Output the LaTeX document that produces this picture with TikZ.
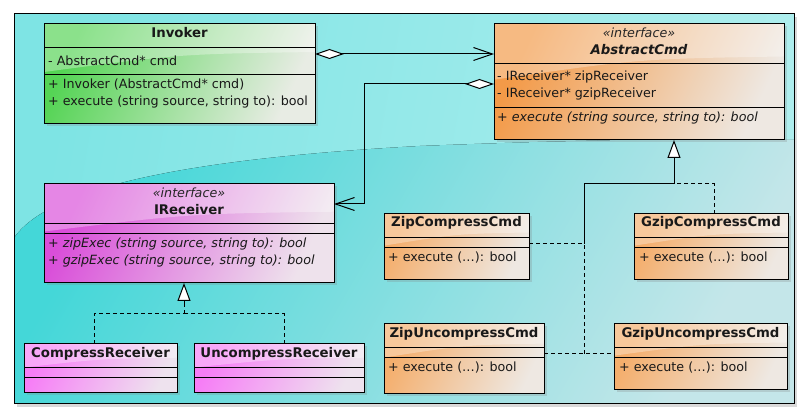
\documentclass[tikz,border=0pt]{standalone}
\usepackage{fontspec}
\setmainfont{DejaVu Sans}
\usetikzlibrary{arrows.meta,shadows,calc}
\definecolor{bgtopL}{HTML}{7EE4E4}
\definecolor{bgtopR}{HTML}{AEEEEE}
\definecolor{bgwaveL}{HTML}{44D7D8}
\definecolor{bgwaveR}{HTML}{C4E6E9}
\definecolor{grnD}{HTML}{55D455}
\definecolor{grnP}{HTML}{E8ECE4}
\definecolor{orgD}{HTML}{F39A48}
\definecolor{orgP}{HTML}{EEE8E2}
\definecolor{magD}{HTML}{D94ED9}
\definecolor{magP}{HTML}{EEE2EC}
\definecolor{pinkD}{HTML}{F67EF6}
\definecolor{pinkP}{HTML}{EEE2EE}
\definecolor{cmdD}{HTML}{F4AE6C}
\definecolor{cmdP}{HTML}{EEE8E2}
\newcommand\umlbox[7]{%
  \node[classbox, left color=#6, right color=#7, shading angle=65,
        minimum width={(#4-#2)*1pt}, minimum height={(#5-#3)*1pt},
        anchor=north west] (#1) at (#2,#3) {};
  \fill[white, opacity=0.32] (#1.north west) -- (#1.north east)
     -- ($(#1.north east)!0.28!(#1.south east)$)
     .. controls ($(#1.north)!0.3!(#1.south)$) .. ($(#1.north west)!0.48!(#1.south west)$) -- cycle;
  \draw[line width=1pt] (#1.north west) rectangle (#1.south east);
}
\newcommand\umlsep[2]{\draw[line width=1pt] (#1.west |- 0,#2) -- (#1.east |- 0,#2);}
\begin{document}
\begin{tikzpicture}[x=1pt,y=-1pt,
  classbox/.style={draw=black, line width=1pt, inner sep=0pt, outer sep=0pt,
     drop shadow={opacity=0.25, shadow xshift=2.5pt, shadow yshift=-2.5pt}},
  ttl/.style={font=\bfseries\fontsize{13.3}{15}\selectfont, inner sep=0pt, text=black!90},
  ster/.style={font=\itshape\fontsize{12.7}{14}\selectfont, inner sep=0pt, text=black!85},
  mem/.style={font=\fontsize{12.7}{14}\selectfont, inner sep=0pt, anchor=west, text=black!90},
  conn/.style={line width=1pt},
  dsh/.style={line width=1pt, dash pattern=on 4pt off 3pt},
  aggr/.style={conn, {Diamond[length=29pt, width=10pt, fill=white, line width=1pt]}-{Straight Barb[length=19pt, width=13pt, line width=1pt]}},
  gen/.style={-{Triangle[length=18pt, width=13pt, fill=white, line width=1pt]}}
]
\useasboundingbox (0,0) rectangle (809,419);
% frame and background
\path[fill=white, drop shadow={opacity=0.3, shadow xshift=3pt, shadow yshift=-3pt}] (14,14) rectangle (794,404);
\fill[left color=bgtopL, right color=bgtopR, shading angle=80] (14,14) rectangle (794,404);
\fill[left color=bgwaveL, right color=bgwaveR, shading angle=60]
  (14,238) .. controls (50,185) and (200,158) .. (420,146)
  .. controls (600,139) and (720,138) .. (794,140) -- (794,404) -- (14,404) -- cycle;
\draw[line width=1pt] (14,14) rectangle (794,404);

% classes
\umlbox{inv}{44}{24}{315}{124}{grnD}{grnP}
\umlsep{inv}{48}\umlsep{inv}{75}
\node[ttl] at (inv.north |- 0,33) {Invoker};
\node[mem] at (48,61) {- AbstractCmd* cmd};
\node[mem] at (48,85) {+ Invoker (AbstractCmd* cmd)};
\node[mem] at (48,102) {+ execute (string source, string to): bool};

\umlbox{acmd}{494}{24}{784}{140}{orgD}{orgP}
\umlsep{acmd}{64}\umlsep{acmd}{108}
\node[ster] at (acmd.north |- 0,33) {«interface»};
\node[ttl, font=\bfseries\itshape\fontsize{13.3}{15}\selectfont] at (acmd.north |- 0,50) {AbstractCmd};
\node[mem] at (497,77) {- IReceiver* zipReceiver};
\node[mem] at (497,94) {- IReceiver* gzipReceiver};
\node[mem] at (497,118) {+ \textit{execute (string source, string to): bool}};

\umlbox{irec}{44}{184}{334}{283}{magD}{magP}
\umlsep{irec}{224}\umlsep{irec}{234}
\node[ster] at (irec.north |- 0,193) {«interface»};
\node[ttl] at (irec.north |- 0,210) {IReceiver};
\node[mem] at (48,244) {+ \textit{zipExec (string source, string to): bool}};
\node[mem] at (48,261) {+ \textit{gzipExec (string source, string to): bool}};

\umlbox{crec}{24}{344}{177}{393}{pinkD}{pinkP}
\umlsep{crec}{368}\umlsep{crec}{378}
\node[ttl] at (crec.north |- 0,354) {CompressReceiver};

\umlbox{urec}{194}{344}{364}{393}{pinkD}{pinkP}
\umlsep{urec}{368}\umlsep{urec}{378}
\node[ttl] at (urec.north |- 0,354) {UncompressReceiver};

\umlbox{zc}{384}{214}{529}{280}{cmdD}{cmdP}
\umlsep{zc}{238}\umlsep{zc}{248}
\node[ttl] at (zc.north |- 0,223) {ZipCompressCmd};
\node[mem] at (388,258) {+ execute (…): bool};

\umlbox{gc}{634}{214}{788}{280}{cmdD}{cmdP}
\umlsep{gc}{238}\umlsep{gc}{248}
\node[ttl] at (gc.north |- 0,223) {GzipCompressCmd};
\node[mem] at (639,258) {+ execute (…): bool};

\umlbox{zu}{384}{324}{544}{394}{cmdD}{cmdP}
\umlsep{zu}{348}\umlsep{zu}{358}
\node[ttl] at (zu.north |- 0,334) {ZipUncompressCmd};
\node[mem] at (388,368) {+ execute (…): bool};

\umlbox{gu}{614}{324}{787}{390}{cmdD}{cmdP}
\umlsep{gu}{348}\umlsep{gu}{358}
\node[ttl] at (gu.north |- 0,334) {GzipUncompressCmd};
\node[mem] at (619,368) {+ execute (…): bool};

% connectors
\draw[aggr] (inv.east |- 0,54) -- (acmd.west |- 0,54);
\coordinate (b1) at (364,84);
\coordinate (b2) at (364,204);
\draw[aggr] (acmd.west |- b1) -- (b1) -- (b2) -- (irec.east |- b2);

\coordinate (r0) at (184,314);
\draw[dsh] (crec.north -| 94,0) |- (r0);
\draw[dsh] (urec.north -| 284,0) |- (r0);
\draw[dsh] (r0) -- (184,302);
\draw[conn, gen] (184,303) -- (irec.south -| 184,0);

\coordinate (j1) at (674,184);
\coordinate (j2) at (584,184);
\coordinate (j3) at (584,244);
\coordinate (j4) at (584,354);
\draw[conn, gen] (j3) -- (j2) -- (j1) -- (acmd.south -| j1);
\draw[dsh] (zc.east |- j3) -- (j3) -- (j4);
\draw[dsh] (zu.east |- j4) -- (gu.west |- j4);
\draw[dsh] (gc.north -| 714,0) |- (j1);
\end{tikzpicture}
\end{document}
